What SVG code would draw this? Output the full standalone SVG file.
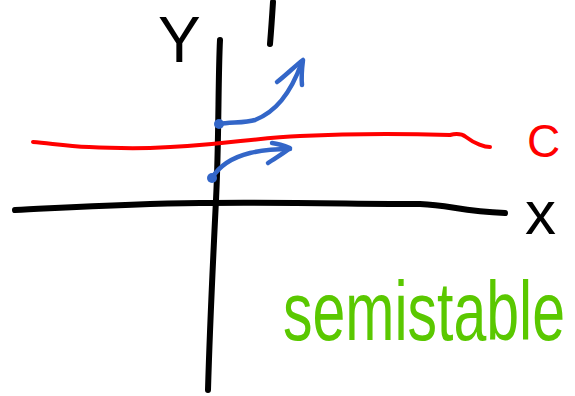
<svg xmlns="http://www.w3.org/2000/svg" width="575" height="396" viewBox="0 0 575 396">
<style>
.k{fill:none;stroke:#000;stroke-width:6;stroke-linecap:round;stroke-linejoin:round}
.r{fill:none;stroke:#ff0000;stroke-width:4;stroke-linecap:round;stroke-linejoin:round}
.b{fill:none;stroke:#3366c8;stroke-width:4.5;stroke-linecap:round;stroke-linejoin:round}
.t{font-family:"Liberation Sans",Arial,sans-serif}
</style>
<rect width="575" height="396" fill="#fff"/>
<g id="axes">
<path class="k" d="M220,40 C218,80 219,140 216,200 C213,260 210,320 208,390"/>
<path class="k" d="M273,2 C272,18 271,32 270,44"/>
<path class="k" d="M15,210 C60,208 120,204 200,203 C280,202 360,204 420,204 C450,205 460,211 505,213"/>
</g>
<g id="curve-c">
<path class="r" d="M33,142 C60,144 80,149 150,148 C220,146 250,138 300,136 C360,133 420,134 450,135 C458,133 462,134 466,137 C475,144 485,147 490,147"/>
</g>
<g id="connectors">
<circle cx="219" cy="124" r="5" fill="#3366c8"/>
<path class="b" d="M219,124 C230,122 245,123 255,120 C275,112 290,95 302,62"/>
<path class="b" d="M277,82 C285,76 295,66 303,60 C302,68 301,76 302,85"/>
<circle cx="212" cy="178" r="5" fill="#3366c8"/>
<path class="b" d="M212,178 C218,168 230,158 250,153 C262,150 278,149 290,149"/>
<path class="b" d="M272,143 C280,144 285,146 290,148 C283,154 275,158 268,163"/>
</g>
<g id="labels">
<text class="t" x="158" y="62" font-size="64" fill="#000">Y</text>
<text class="t" x="527" y="157" font-size="46" fill="#ff0000">C</text>
<text class="t" x="525" y="234" font-size="62" fill="#000">x</text>
<text class="t" transform="translate(283,340) scale(1,1.4)" x="0" y="0" font-size="59" fill="#5ac800">semistable</text>
</g>
</svg>
